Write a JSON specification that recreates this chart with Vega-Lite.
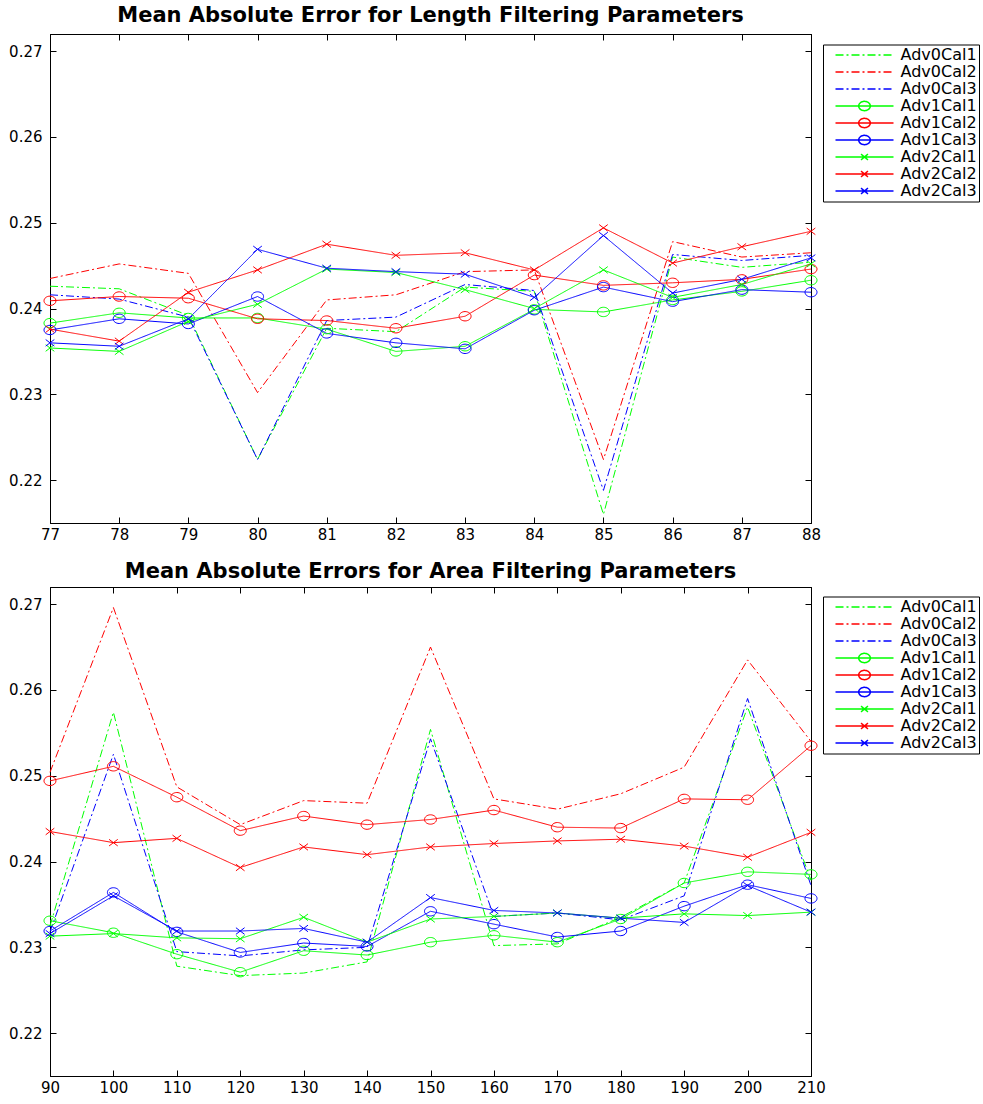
{
"$schema": "https://vega.github.io/schema/vega-lite/v6.json",
"autosize": {"type": "pad"},
"padding": {"left": 8, "top": 4, "right": 0, "bottom": 0},
"background": "white",
"bounds": "flush",
"spacing": 64,
"datasets": {
"length": [
{"p":77,"s":"Adv0Cal1","v":0.2426},{"p":78,"s":"Adv0Cal1","v":0.2423},{"p":79,"s":"Adv0Cal1","v":0.2392},{"p":80,"s":"Adv0Cal1","v":0.2224},{"p":81,"s":"Adv0Cal1","v":0.2377},{"p":82,"s":"Adv0Cal1","v":0.2373},{"p":83,"s":"Adv0Cal1","v":0.2425},{"p":84,"s":"Adv0Cal1","v":0.2420},{"p":85,"s":"Adv0Cal1","v":0.2160},{"p":86,"s":"Adv0Cal1","v":0.2460},{"p":87,"s":"Adv0Cal1","v":0.2448},{"p":88,"s":"Adv0Cal1","v":0.2454},
{"p":77,"s":"Adv0Cal2","v":0.2435},{"p":78,"s":"Adv0Cal2","v":0.2452},{"p":79,"s":"Adv0Cal2","v":0.2441},{"p":80,"s":"Adv0Cal2","v":0.2302},{"p":81,"s":"Adv0Cal2","v":0.2410},{"p":82,"s":"Adv0Cal2","v":0.2416},{"p":83,"s":"Adv0Cal2","v":0.2443},{"p":84,"s":"Adv0Cal2","v":0.2445},{"p":85,"s":"Adv0Cal2","v":0.2224},{"p":86,"s":"Adv0Cal2","v":0.2478},{"p":87,"s":"Adv0Cal2","v":0.2460},{"p":88,"s":"Adv0Cal2","v":0.2465},
{"p":77,"s":"Adv0Cal3","v":0.2416},{"p":78,"s":"Adv0Cal3","v":0.2411},{"p":79,"s":"Adv0Cal3","v":0.2390},{"p":80,"s":"Adv0Cal3","v":0.2224},{"p":81,"s":"Adv0Cal3","v":0.2386},{"p":82,"s":"Adv0Cal3","v":0.2390},{"p":83,"s":"Adv0Cal3","v":0.2428},{"p":84,"s":"Adv0Cal3","v":0.2421},{"p":85,"s":"Adv0Cal3","v":0.2188},{"p":86,"s":"Adv0Cal3","v":0.2463},{"p":87,"s":"Adv0Cal3","v":0.2456},{"p":88,"s":"Adv0Cal3","v":0.2462},
{"p":77,"s":"Adv1Cal1","v":0.2383},{"p":78,"s":"Adv1Cal1","v":0.2395},{"p":79,"s":"Adv1Cal1","v":0.2389},{"p":80,"s":"Adv1Cal1","v":0.2389},{"p":81,"s":"Adv1Cal1","v":0.2376},{"p":82,"s":"Adv1Cal1","v":0.2350},{"p":83,"s":"Adv1Cal1","v":0.2356},{"p":84,"s":"Adv1Cal1","v":0.2399},{"p":85,"s":"Adv1Cal1","v":0.2396},{"p":86,"s":"Adv1Cal1","v":0.2410},{"p":87,"s":"Adv1Cal1","v":0.2420},{"p":88,"s":"Adv1Cal1","v":0.2433},
{"p":77,"s":"Adv1Cal2","v":0.2409},{"p":78,"s":"Adv1Cal2","v":0.2414},{"p":79,"s":"Adv1Cal2","v":0.2412},{"p":80,"s":"Adv1Cal2","v":0.2388},{"p":81,"s":"Adv1Cal2","v":0.2386},{"p":82,"s":"Adv1Cal2","v":0.2377},{"p":83,"s":"Adv1Cal2","v":0.2391},{"p":84,"s":"Adv1Cal2","v":0.2439},{"p":85,"s":"Adv1Cal2","v":0.2427},{"p":86,"s":"Adv1Cal2","v":0.2430},{"p":87,"s":"Adv1Cal2","v":0.2434},{"p":88,"s":"Adv1Cal2","v":0.2446},
{"p":77,"s":"Adv1Cal3","v":0.2375},{"p":78,"s":"Adv1Cal3","v":0.2388},{"p":79,"s":"Adv1Cal3","v":0.2382},{"p":80,"s":"Adv1Cal3","v":0.2414},{"p":81,"s":"Adv1Cal3","v":0.2371},{"p":82,"s":"Adv1Cal3","v":0.2360},{"p":83,"s":"Adv1Cal3","v":0.2353},{"p":84,"s":"Adv1Cal3","v":0.2398},{"p":85,"s":"Adv1Cal3","v":0.2425},{"p":86,"s":"Adv1Cal3","v":0.2408},{"p":87,"s":"Adv1Cal3","v":0.2422},{"p":88,"s":"Adv1Cal3","v":0.2419},
{"p":77,"s":"Adv2Cal1","v":0.2354},{"p":78,"s":"Adv2Cal1","v":0.2350},{"p":79,"s":"Adv2Cal1","v":0.2385},{"p":80,"s":"Adv2Cal1","v":0.2405},{"p":81,"s":"Adv2Cal1","v":0.2446},{"p":82,"s":"Adv2Cal1","v":0.2442},{"p":83,"s":"Adv2Cal1","v":0.2422},{"p":84,"s":"Adv2Cal1","v":0.2400},{"p":85,"s":"Adv2Cal1","v":0.2445},{"p":86,"s":"Adv2Cal1","v":0.2413},{"p":87,"s":"Adv2Cal1","v":0.2428},{"p":88,"s":"Adv2Cal1","v":0.2452},
{"p":77,"s":"Adv2Cal2","v":0.2376},{"p":78,"s":"Adv2Cal2","v":0.2362},{"p":79,"s":"Adv2Cal2","v":0.2419},{"p":80,"s":"Adv2Cal2","v":0.2445},{"p":81,"s":"Adv2Cal2","v":0.2475},{"p":82,"s":"Adv2Cal2","v":0.2462},{"p":83,"s":"Adv2Cal2","v":0.2465},{"p":84,"s":"Adv2Cal2","v":0.2445},{"p":85,"s":"Adv2Cal2","v":0.2494},{"p":86,"s":"Adv2Cal2","v":0.2453},{"p":87,"s":"Adv2Cal2","v":0.2472},{"p":88,"s":"Adv2Cal2","v":0.2490},
{"p":77,"s":"Adv2Cal3","v":0.2360},{"p":78,"s":"Adv2Cal3","v":0.2356},{"p":79,"s":"Adv2Cal3","v":0.2388},{"p":80,"s":"Adv2Cal3","v":0.2469},{"p":81,"s":"Adv2Cal3","v":0.2447},{"p":82,"s":"Adv2Cal3","v":0.2443},{"p":83,"s":"Adv2Cal3","v":0.2440},{"p":84,"s":"Adv2Cal3","v":0.2413},{"p":85,"s":"Adv2Cal3","v":0.2485},{"p":86,"s":"Adv2Cal3","v":0.2418},{"p":87,"s":"Adv2Cal3","v":0.2434},{"p":88,"s":"Adv2Cal3","v":0.2459}
],
"area": [
{"p":90,"s":"Adv0Cal1","v":0.2325},{"p":100,"s":"Adv0Cal1","v":0.2574},{"p":110,"s":"Adv0Cal1","v":0.2278},{"p":120,"s":"Adv0Cal1","v":0.2267},{"p":130,"s":"Adv0Cal1","v":0.2270},{"p":140,"s":"Adv0Cal1","v":0.2283},{"p":150,"s":"Adv0Cal1","v":0.2554},{"p":160,"s":"Adv0Cal1","v":0.2302},{"p":170,"s":"Adv0Cal1","v":0.2304},{"p":180,"s":"Adv0Cal1","v":0.2335},{"p":190,"s":"Adv0Cal1","v":0.2375},{"p":200,"s":"Adv0Cal1","v":0.2580},{"p":210,"s":"Adv0Cal1","v":0.2378},
{"p":90,"s":"Adv0Cal2","v":0.2504},{"p":100,"s":"Adv0Cal2","v":0.2696},{"p":110,"s":"Adv0Cal2","v":0.2487},{"p":120,"s":"Adv0Cal2","v":0.2443},{"p":130,"s":"Adv0Cal2","v":0.2471},{"p":140,"s":"Adv0Cal2","v":0.2468},{"p":150,"s":"Adv0Cal2","v":0.2650},{"p":160,"s":"Adv0Cal2","v":0.2473},{"p":170,"s":"Adv0Cal2","v":0.2461},{"p":180,"s":"Adv0Cal2","v":0.2479},{"p":190,"s":"Adv0Cal2","v":0.2510},{"p":200,"s":"Adv0Cal2","v":0.2635},{"p":210,"s":"Adv0Cal2","v":0.2540},
{"p":90,"s":"Adv0Cal3","v":0.2318},{"p":100,"s":"Adv0Cal3","v":0.2525},{"p":110,"s":"Adv0Cal3","v":0.2295},{"p":120,"s":"Adv0Cal3","v":0.2290},{"p":130,"s":"Adv0Cal3","v":0.2297},{"p":140,"s":"Adv0Cal3","v":0.2300},{"p":150,"s":"Adv0Cal3","v":0.2543},{"p":160,"s":"Adv0Cal3","v":0.2336},{"p":170,"s":"Adv0Cal3","v":0.2340},{"p":180,"s":"Adv0Cal3","v":0.2332},{"p":190,"s":"Adv0Cal3","v":0.2360},{"p":200,"s":"Adv0Cal3","v":0.2590},{"p":210,"s":"Adv0Cal3","v":0.2372},
{"p":90,"s":"Adv1Cal1","v":0.2331},{"p":100,"s":"Adv1Cal1","v":0.2317},{"p":110,"s":"Adv1Cal1","v":0.2292},{"p":120,"s":"Adv1Cal1","v":0.2271},{"p":130,"s":"Adv1Cal1","v":0.2296},{"p":140,"s":"Adv1Cal1","v":0.2291},{"p":150,"s":"Adv1Cal1","v":0.2306},{"p":160,"s":"Adv1Cal1","v":0.2314},{"p":170,"s":"Adv1Cal1","v":0.2306},{"p":180,"s":"Adv1Cal1","v":0.2333},{"p":190,"s":"Adv1Cal1","v":0.2375},{"p":200,"s":"Adv1Cal1","v":0.2388},{"p":210,"s":"Adv1Cal1","v":0.2385},
{"p":90,"s":"Adv1Cal2","v":0.2494},{"p":100,"s":"Adv1Cal2","v":0.2511},{"p":110,"s":"Adv1Cal2","v":0.2475},{"p":120,"s":"Adv1Cal2","v":0.2436},{"p":130,"s":"Adv1Cal2","v":0.2453},{"p":140,"s":"Adv1Cal2","v":0.2443},{"p":150,"s":"Adv1Cal2","v":0.2449},{"p":160,"s":"Adv1Cal2","v":0.2460},{"p":170,"s":"Adv1Cal2","v":0.2440},{"p":180,"s":"Adv1Cal2","v":0.2439},{"p":190,"s":"Adv1Cal2","v":0.2473},{"p":200,"s":"Adv1Cal2","v":0.2472},{"p":210,"s":"Adv1Cal2","v":0.2535},
{"p":90,"s":"Adv1Cal3","v":0.2319},{"p":100,"s":"Adv1Cal3","v":0.2364},{"p":110,"s":"Adv1Cal3","v":0.2318},{"p":120,"s":"Adv1Cal3","v":0.2294},{"p":130,"s":"Adv1Cal3","v":0.2305},{"p":140,"s":"Adv1Cal3","v":0.2301},{"p":150,"s":"Adv1Cal3","v":0.2342},{"p":160,"s":"Adv1Cal3","v":0.2327},{"p":170,"s":"Adv1Cal3","v":0.2312},{"p":180,"s":"Adv1Cal3","v":0.2319},{"p":190,"s":"Adv1Cal3","v":0.2348},{"p":200,"s":"Adv1Cal3","v":0.2373},{"p":210,"s":"Adv1Cal3","v":0.2357},
{"p":90,"s":"Adv2Cal1","v":0.2313},{"p":100,"s":"Adv2Cal1","v":0.2316},{"p":110,"s":"Adv2Cal1","v":0.2311},{"p":120,"s":"Adv2Cal1","v":0.2310},{"p":130,"s":"Adv2Cal1","v":0.2335},{"p":140,"s":"Adv2Cal1","v":0.2306},{"p":150,"s":"Adv2Cal1","v":0.2333},{"p":160,"s":"Adv2Cal1","v":0.2336},{"p":170,"s":"Adv2Cal1","v":0.2340},{"p":180,"s":"Adv2Cal1","v":0.2334},{"p":190,"s":"Adv2Cal1","v":0.2339},{"p":200,"s":"Adv2Cal1","v":0.2337},{"p":210,"s":"Adv2Cal1","v":0.2341},
{"p":90,"s":"Adv2Cal2","v":0.2435},{"p":100,"s":"Adv2Cal2","v":0.2422},{"p":110,"s":"Adv2Cal2","v":0.2427},{"p":120,"s":"Adv2Cal2","v":0.2393},{"p":130,"s":"Adv2Cal2","v":0.2417},{"p":140,"s":"Adv2Cal2","v":0.2408},{"p":150,"s":"Adv2Cal2","v":0.2417},{"p":160,"s":"Adv2Cal2","v":0.2421},{"p":170,"s":"Adv2Cal2","v":0.2424},{"p":180,"s":"Adv2Cal2","v":0.2426},{"p":190,"s":"Adv2Cal2","v":0.2418},{"p":200,"s":"Adv2Cal2","v":0.2405},{"p":210,"s":"Adv2Cal2","v":0.2434},
{"p":90,"s":"Adv2Cal3","v":0.2316},{"p":100,"s":"Adv2Cal3","v":0.2360},{"p":110,"s":"Adv2Cal3","v":0.2319},{"p":120,"s":"Adv2Cal3","v":0.2319},{"p":130,"s":"Adv2Cal3","v":0.2322},{"p":140,"s":"Adv2Cal3","v":0.2306},{"p":150,"s":"Adv2Cal3","v":0.2358},{"p":160,"s":"Adv2Cal3","v":0.2343},{"p":170,"s":"Adv2Cal3","v":0.2340},{"p":180,"s":"Adv2Cal3","v":0.2334},{"p":190,"s":"Adv2Cal3","v":0.2329},{"p":200,"s":"Adv2Cal3","v":0.2372},{"p":210,"s":"Adv2Cal3","v":0.2341}
]
},
"resolve": {"scale": {"color": "independent", "strokeDash": "independent", "shape": "independent", "x": "independent", "y": "independent"}, "legend": {"color": "independent"}},
"vconcat": [
{
"width": 761, "height": 489,
"title": {"text": "Mean Absolute Error for Length Filtering Parameters", "offset": 8},
"data": {"name": "length"},
"layer": [
{"mark": {"type": "line", "strokeWidth": 1},
"encoding": {
"x": {"field": "p", "type": "quantitative", "scale": {"domain": [77, 88], "nice": false, "zero": false}, "axis": {"orient": "bottom", "values": [77,78,79,80,81,82,83,84,85,86,87,88], "format": "d", "title": null}},
"y": {"field": "v", "type": "quantitative", "scale": {"domain": [0.215, 0.272], "nice": false, "zero": false}, "axis": {"orient": "left", "values": [0.22,0.23,0.24,0.25,0.26,0.27], "format": ".2f", "title": null}},
"color": {"field": "s", "type": "nominal", "scale": {"domain": ["Adv0Cal1","Adv0Cal2","Adv0Cal3","Adv1Cal1","Adv1Cal2","Adv1Cal3","Adv2Cal1","Adv2Cal2","Adv2Cal3"], "range": ["#00ff00","#ff0000","#0000ff","#00ff00","#ff0000","#0000ff","#00ff00","#ff0000","#0000ff"]},
"legend": {"title": null, "orient": "none", "legendX": 773, "legendY": 10.5, "symbolType": "stroke", "symbolSize": 3364, "symbolStrokeWidth": 1.5, "clipHeight": 17, "rowPadding": 0, "padding": 2, "symbolOffset": 9.5, "labelOffset": 6, "labelFont": "DejaVu Sans", "labelFontSize": 16, "labelColor": "black", "strokeColor": "black", "fillColor": "white",
"encode": {"symbols": {"update": {"shape": {"signal": "indexof(datum.value,'Adv1')>=0 ? 'M-1,0H1M0.2,0A0.2,0.16 0 1,1 -0.2,0A0.2,0.16 0 1,1 0.2,0' : (indexof(datum.value,'Adv2')>=0 ? 'M-1,0H1M-0.12,-0.1L0.12,0.1M-0.12,0.1L0.12,-0.1' : 'M-1,0H1')"}, "strokeDash": {"signal": "indexof(datum.value,'Adv0')>=0 ? [8,3,2,3] : [1,0]"}, "fill": {"value": "transparent"}}}}}},
"strokeDash": {"field": "s", "type": "nominal", "scale": {"domain": ["Adv0Cal1","Adv0Cal2","Adv0Cal3","Adv1Cal1","Adv1Cal2","Adv1Cal3","Adv2Cal1","Adv2Cal2","Adv2Cal3"], "range": [[8,3,2,3],[8,3,2,3],[8,3,2,3],[1,0],[1,0],[1,0],[1,0],[1,0],[1,0]]}, "legend": null}
}},
{"transform": [{"filter": "indexof(datum.s,'Adv0') < 0"}],
"mark": {"type": "point", "filled": false, "strokeWidth": 1, "size": 144, "opacity": 1},
"encoding": {
"x": {"field": "p", "type": "quantitative", "scale": {"domain": [77, 88], "nice": false, "zero": false}, "axis": {"orient": "top", "values": [77,78,79,80,81,82,83,84,85,86,87,88], "labels": false, "title": null}},
"y": {"field": "v", "type": "quantitative", "scale": {"domain": [0.215, 0.272], "nice": false, "zero": false}, "axis": {"orient": "right", "values": [0.22,0.23,0.24,0.25,0.26,0.27], "labels": false, "title": null}},
"color": {"field": "s", "type": "nominal", "scale": {"domain": ["Adv0Cal1","Adv0Cal2","Adv0Cal3","Adv1Cal1","Adv1Cal2","Adv1Cal3","Adv2Cal1","Adv2Cal2","Adv2Cal3"], "range": ["#00ff00","#ff0000","#0000ff","#00ff00","#ff0000","#0000ff","#00ff00","#ff0000","#0000ff"]}, "legend": null},
"shape": {"field": "s", "type": "nominal", "scale": {"domain": ["Adv1Cal1","Adv1Cal2","Adv1Cal3","Adv2Cal1","Adv2Cal2","Adv2Cal3"], "range": ["M-1,0A1,0.78 0 1,1 1,0A1,0.78 0 1,1 -1,0","M-1,0A1,0.78 0 1,1 1,0A1,0.78 0 1,1 -1,0","M-1,0A1,0.78 0 1,1 1,0A1,0.78 0 1,1 -1,0","M-0.72,-0.55L0.72,0.55M-0.72,0.55L0.72,-0.55","M-0.72,-0.55L0.72,0.55M-0.72,0.55L0.72,-0.55","M-0.72,-0.55L0.72,0.55M-0.72,0.55L0.72,-0.55"]}, "legend": null}
}}
],
"resolve": {"axis": {"x": "independent", "y": "independent"}}
},
{
"width": 761, "height": 489,
"title": {"text": "Mean Absolute Errors for Area Filtering Parameters", "offset": 5},
"data": {"name": "area"},
"layer": [
{"mark": {"type": "line", "strokeWidth": 1},
"encoding": {
"x": {"field": "p", "type": "quantitative", "scale": {"domain": [90, 210], "nice": false, "zero": false}, "axis": {"orient": "bottom", "values": [90,100,110,120,130,140,150,160,170,180,190,200,210], "format": "d", "title": null}},
"y": {"field": "v", "type": "quantitative", "scale": {"domain": [0.215, 0.272], "nice": false, "zero": false}, "axis": {"orient": "left", "values": [0.22,0.23,0.24,0.25,0.26,0.27], "format": ".2f", "title": null}},
"color": {"field": "s", "type": "nominal", "scale": {"domain": ["Adv0Cal1","Adv0Cal2","Adv0Cal3","Adv1Cal1","Adv1Cal2","Adv1Cal3","Adv2Cal1","Adv2Cal2","Adv2Cal3"], "range": ["#00ff00","#ff0000","#0000ff","#00ff00","#ff0000","#0000ff","#00ff00","#ff0000","#0000ff"]},
"legend": {"title": null, "orient": "none", "legendX": 773, "legendY": 9.5, "symbolType": "stroke", "symbolSize": 3364, "symbolStrokeWidth": 1.5, "clipHeight": 17, "rowPadding": 0, "padding": 2, "symbolOffset": 9.5, "labelOffset": 6, "labelFont": "DejaVu Sans", "labelFontSize": 16, "labelColor": "black", "strokeColor": "black", "fillColor": "white",
"encode": {"symbols": {"update": {"shape": {"signal": "indexof(datum.value,'Adv1')>=0 ? 'M-1,0H1M0.2,0A0.2,0.16 0 1,1 -0.2,0A0.2,0.16 0 1,1 0.2,0' : (indexof(datum.value,'Adv2')>=0 ? 'M-1,0H1M-0.12,-0.1L0.12,0.1M-0.12,0.1L0.12,-0.1' : 'M-1,0H1')"}, "strokeDash": {"signal": "indexof(datum.value,'Adv0')>=0 ? [8,3,2,3] : [1,0]"}, "fill": {"value": "transparent"}}}}}},
"strokeDash": {"field": "s", "type": "nominal", "scale": {"domain": ["Adv0Cal1","Adv0Cal2","Adv0Cal3","Adv1Cal1","Adv1Cal2","Adv1Cal3","Adv2Cal1","Adv2Cal2","Adv2Cal3"], "range": [[8,3,2,3],[8,3,2,3],[8,3,2,3],[1,0],[1,0],[1,0],[1,0],[1,0],[1,0]]}, "legend": null}
}},
{"transform": [{"filter": "indexof(datum.s,'Adv0') < 0"}],
"mark": {"type": "point", "filled": false, "strokeWidth": 1, "size": 144, "opacity": 1},
"encoding": {
"x": {"field": "p", "type": "quantitative", "scale": {"domain": [90, 210], "nice": false, "zero": false}, "axis": {"orient": "top", "values": [90,100,110,120,130,140,150,160,170,180,190,200,210], "labels": false, "title": null}},
"y": {"field": "v", "type": "quantitative", "scale": {"domain": [0.215, 0.272], "nice": false, "zero": false}, "axis": {"orient": "right", "values": [0.22,0.23,0.24,0.25,0.26,0.27], "labels": false, "title": null}},
"color": {"field": "s", "type": "nominal", "scale": {"domain": ["Adv0Cal1","Adv0Cal2","Adv0Cal3","Adv1Cal1","Adv1Cal2","Adv1Cal3","Adv2Cal1","Adv2Cal2","Adv2Cal3"], "range": ["#00ff00","#ff0000","#0000ff","#00ff00","#ff0000","#0000ff","#00ff00","#ff0000","#0000ff"]}, "legend": null},
"shape": {"field": "s", "type": "nominal", "scale": {"domain": ["Adv1Cal1","Adv1Cal2","Adv1Cal3","Adv2Cal1","Adv2Cal2","Adv2Cal3"], "range": ["M-1,0A1,0.78 0 1,1 1,0A1,0.78 0 1,1 -1,0","M-1,0A1,0.78 0 1,1 1,0A1,0.78 0 1,1 -1,0","M-1,0A1,0.78 0 1,1 1,0A1,0.78 0 1,1 -1,0","M-0.72,-0.55L0.72,0.55M-0.72,0.55L0.72,-0.55","M-0.72,-0.55L0.72,0.55M-0.72,0.55L0.72,-0.55","M-0.72,-0.55L0.72,0.55M-0.72,0.55L0.72,-0.55"]}, "legend": null}
}}
],
"resolve": {"axis": {"x": "independent", "y": "independent"}}
}
],
"config": {
"view": {"stroke": "black", "strokeWidth": 1},
"axis": {"grid": false, "domainColor": "black", "domainWidth": 1, "tickColor": "black", "tickSize": -6, "labelColor": "black", "labelFont": "DejaVu Sans", "labelFontSize": 15, "labelFlush": false},
"axisX": {"labelPadding": 10},
"axisY": {"labelPadding": 14},
"title": {"font": "DejaVu Sans", "fontSize": 21, "fontWeight": "bold", "color": "black", "anchor": "middle"}
}
}
